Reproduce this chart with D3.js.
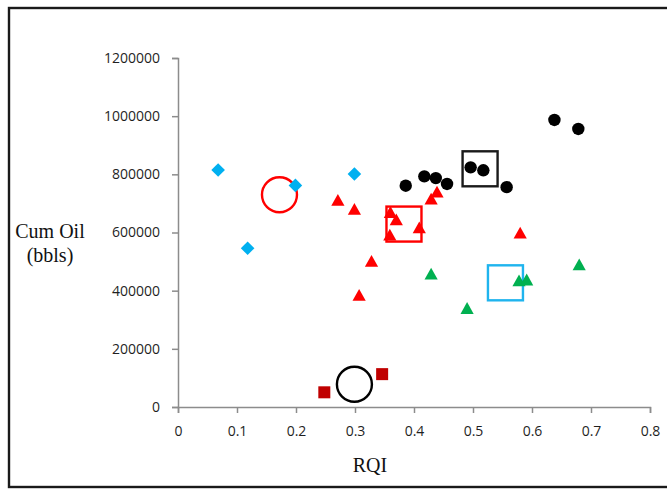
<!DOCTYPE html>
<html>
<head>
<meta charset="utf-8">
<script src="https://cdn.jsdelivr.net/npm/d3@7"></script>
<style>
  html, body { margin: 0; padding: 0; background: #fff; }
  svg { display: block; }
</style>
</head>
<body>
<script>
// ---- data ----
const xTicks = [0, 0.1, 0.2, 0.3, 0.4, 0.5, 0.6, 0.7, 0.8];
const xTickLabels = ["0", "0.1", "0.2", "0.3", "0.4", "0.5", "0.6", "0.7", "0.8"];
const yTicks = [0, 200000, 400000, 600000, 800000, 1000000, 1200000];
const yTickLabels = ["0", "200000", "400000", "600000", "800000", "1000000", "1200000"];

const blackDotX = [0.386, 0.4175, 0.437, 0.456, 0.496, 0.5175, 0.557, 0.638, 0.6785];
const blackDotY = [761000, 793000, 787000, 767000, 824000, 814000, 756000, 987000, 956000];

const blueDiamondX = [0.068, 0.118, 0.199, 0.299];
const blueDiamondY = [815000, 546000, 762000, 801000];

const redTriangleX = [0.271, 0.299, 0.328, 0.307, 0.360, 0.370, 0.359, 0.409, 0.429, 0.439, 0.580];
const redTriangleY = [708000, 677000, 498000, 381000, 666000, 641000, 588000, 613000, 712000, 736000, 595000];

const greenTriangleX = [0.429, 0.490, 0.578, 0.591, 0.680];
const greenTriangleY = [454000, 336000, 431000, 434000, 486000];

const redSquareX = [0.248, 0.346];
const redSquareY = [50500, 113000];

// highlight annotations (open circles and open boxes)
const ringX = [0.172, 0.299];
const ringY = [730000, 78000];
const ringColor = ["#FF0000", "#000000"];

const boxX = [0.512, 0.383, 0.555];
const boxY = [819000, 629000, 427000];
const boxColor = ["#1a1a1a", "#FF0000", "#1FB4EE"];

const xTitle = "RQI";
const yTitleLines = ["Cum Oil", "(bbls)"];

// ---- drawing ----
const W = 667, H = 489;
const svg = d3.select("body").append("svg").attr("width", W).attr("height", H);
svg.append("rect").attr("width", W).attr("height", H).attr("fill", "#fff");

// frame
svg.append("rect").attr("x", 9).attr("y", 8).attr("width", 720).attr("height", 479)
  .attr("fill", "none").attr("stroke", "#1a1a1a").attr("stroke-width", 2.4);

const x = d3.scaleLinear().domain([0, 0.8]).range([178, 650]);
const y = d3.scaleLinear().domain([0, 1200000]).range([407, 58]);

const axisColor = "#8c8c8c";
const labelFont = "'Open Sans', sans-serif";

const xAxis = svg.append("g").attr("transform", `translate(0,${y(0)})`)
  .call(d3.axisBottom(x).tickValues(xTicks).tickFormat((d, i) => xTickLabels[i])
    .tickSize(6).tickSizeOuter(6).tickPadding(13));
const yAxis = svg.append("g").attr("transform", `translate(${x(0)},0)`)
  .call(d3.axisLeft(y).tickValues(yTicks).tickFormat((d, i) => yTickLabels[i])
    .tickSize(6).tickSizeOuter(6).tickPadding(12));

[xAxis, yAxis].forEach(g => {
  g.select(".domain").attr("stroke", axisColor).attr("stroke-width", 1.5);
  g.selectAll(".tick line").attr("stroke", axisColor).attr("stroke-width", 1.5);
  g.selectAll(".tick text").attr("fill", "#1f1f1f")
    .style("font-family", labelFont).style("font-size", "14px");
});

// axis titles
svg.append("text").attr("x", 370).attr("y", 472).attr("text-anchor", "middle")
  .style("font-family", "'Liberation Serif', 'Times New Roman', serif").style("font-size", "20px")
  .attr("fill", "#111").text(xTitle);
svg.append("text").attr("text-anchor", "middle")
  .style("font-family", "'Liberation Serif', 'Times New Roman', serif").style("font-size", "20px")
  .attr("fill", "#111")
  .selectAll("tspan").data(yTitleLines).join("tspan")
  .attr("x", 50).attr("y", (d, i) => 238 + i * 24).text(d => d);

// annotations
const rings = ringX.map((v, i) => ({ x: v, y: ringY[i], c: ringColor[i] }));
svg.append("g").selectAll("circle").data(rings).join("circle")
  .attr("cx", d => x(d.x)).attr("cy", d => y(d.y)).attr("r", 17.5)
  .attr("fill", "none").attr("stroke", d => d.c).attr("stroke-width", 2.4);

const boxes = boxX.map((v, i) => ({ x: v, y: boxY[i], c: boxColor[i] }));
const B = 35;
svg.append("g").selectAll("rect").data(boxes).join("rect")
  .attr("x", d => x(d.x) - B / 2).attr("y", d => y(d.y) - B / 2)
  .attr("width", B).attr("height", B)
  .attr("fill", "none").attr("stroke", d => d.c).attr("stroke-width", 2.4);

// markers
const zip = (xs, ys) => xs.map((v, i) => ({ x: v, y: ys[i] }));
const triPath = "M0,-7.2L6.6,4.6L-6.6,4.6Z";

svg.append("g").selectAll("path").data(zip(blueDiamondX, blueDiamondY)).join("path")
  .attr("transform", d => `translate(${x(d.x)},${y(d.y)})`)
  .attr("d", "M0,-6.8L6.8,0L0,6.8L-6.8,0Z").attr("fill", "#00B0F0");

svg.append("g").selectAll("rect").data(zip(redSquareX, redSquareY)).join("rect")
  .attr("x", d => x(d.x) - 6).attr("y", d => y(d.y) - 6)
  .attr("width", 12).attr("height", 12).attr("fill", "#C00000");

svg.append("g").selectAll("path").data(zip(greenTriangleX, greenTriangleY)).join("path")
  .attr("transform", d => `translate(${x(d.x)},${y(d.y)})`)
  .attr("d", triPath).attr("fill", "#00B050");

svg.append("g").selectAll("path").data(zip(redTriangleX, redTriangleY)).join("path")
  .attr("transform", d => `translate(${x(d.x)},${y(d.y)})`)
  .attr("d", triPath).attr("fill", "#FF0000");

svg.append("g").selectAll("circle").data(zip(blackDotX, blackDotY)).join("circle")
  .attr("cx", d => x(d.x)).attr("cy", d => y(d.y)).attr("r", 6.2).attr("fill", "#000");
</script>
</body>
</html>
